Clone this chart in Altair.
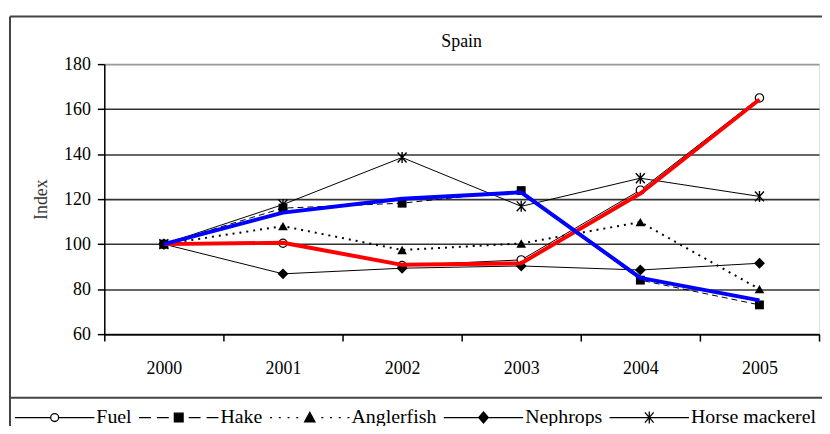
import altair as alt
import pandas as pd

years = ["2000", "2001", "2002", "2003", "2004", "2005"]
series_names = ["Fuel", "Hake", "Anglerfish", "Nephrops", "Horse mackerel"]
fuel = [100, 100.4, 90.5, 93, 124, 165]
hake = [100, 116, 118.2, 123.8, 84, 73]
anglerfish = [100, 108, 97.4, 100.3, 109.8, 80]
nephrops = [100, 86.8, 89.3, 90.3, 88.5, 91.5]
horse_mackerel = [100, 117.6, 138.5, 116.8, 129.3, 121.2]
fuel_trend_red = [100, 100.6, 90.8, 91.5, 122.5, 164.3]
hake_trend_blue = [100, 114, 120.2, 123, 85, 75]
y_ticks = [60, 80, 100, 120, 140, 160, 180]

FONT = "Liberation Serif"

values = {
    "Fuel": fuel,
    "Hake": hake,
    "Anglerfish": anglerfish,
    "Nephrops": nephrops,
    "Horse mackerel": horse_mackerel,
}

rows = []
for name, vals in values.items():
    for yr, v in zip(years, vals):
        rows.append({"year": yr, "value": v, "series": name})
df = pd.DataFrame(rows)

trend_rows = []
for name, vals in [("red", fuel_trend_red), ("blue", hake_trend_blue)]:
    for yr, v in zip(years, vals):
        trend_rows.append({"year": yr, "value": v, "trend": name})
tdf = pd.DataFrame(trend_rows)

x_enc = alt.X(
    "year:N",
    scale=alt.Scale(type="band", domain=years, paddingInner=0, paddingOuter=0),
    axis=alt.Axis(
        title=None, tickBand="extent", labelAngle=0, labelFont=FONT,
        labelFontSize=18, labelColor="black", labelPadding=19, tickSize=7,
        tickColor="black", tickWidth=1.5, domainColor="black", domainWidth=1.5,
        grid=False,
    ),
)
y_enc = alt.Y(
    "value:Q",
    scale=alt.Scale(domain=[60, 180], nice=False, zero=False),
    axis=alt.Axis(
        values=y_ticks, title="Index", titleFont=FONT, titleFontSize=18,
        titleFontWeight="normal", titleColor="#333", titleX=-54, titleY=136,
        labelFont=FONT, labelFontSize=18, labelColor="black", labelPadding=7,
        tickSize=7, tickColor="black", tickWidth=1.5, domainColor="black",
        domainWidth=1.5, grid=True,
        gridColor={"condition": {"test": "datum.value == 180", "value": "#9a9a9a"}, "value": "#333333"},
        gridWidth=1.6,
    ),
)

line_styles = {
    "Fuel": dict(strokeWidth=1),
    "Hake": dict(strokeWidth=1, strokeDash=[6, 4]),
    "Anglerfish": dict(strokeWidth=2, strokeDash=[2, 5]),
    "Nephrops": dict(strokeWidth=1),
    "Horse mackerel": dict(strokeWidth=1),
}
marker_styles = {
    "Fuel": dict(shape="circle", size=70, filled=True, fill="white", stroke="black", strokeWidth=1.2),
    "Hake": dict(shape="square", size=80, filled=True, color="black"),
    "Anglerfish": dict(shape="triangle-up", size=95, filled=True, color="black"),
    "Nephrops": dict(shape="diamond", size=120, filled=True, color="black"),
    "Horse mackerel": dict(shape="M-0.9,-1L0.9,1M-0.9,1L0.9,-1M0,-1.1V1.1", size=100,
                           filled=False, stroke="black", strokeWidth=1.4),
}

layers = []
for name in series_names:
    sub = alt.Chart(df).transform_filter(alt.datum.series == name)
    layers.append(sub.mark_line(color="black", **line_styles[name]).encode(x=x_enc, y=y_enc))
for name in series_names:
    sub = alt.Chart(df).transform_filter(alt.datum.series == name)
    layers.append(sub.mark_point(opacity=1, **marker_styles[name]).encode(x=x_enc, y=y_enc))

layers.append(
    alt.Chart(tdf).transform_filter(alt.datum.trend == "red")
    .mark_line(color="#ff0000", strokeWidth=4, strokeJoin="round").encode(x=x_enc, y=y_enc)
)
layers.append(
    alt.Chart(tdf).transform_filter(alt.datum.trend == "blue")
    .mark_line(color="#0000ff", strokeWidth=4, strokeJoin="round").encode(x=x_enc, y=y_enc)
)

# legend symbols: line + marker drawn as one path each
legend_paths = [
    "M-1,0H-0.1M0.1,0H1M0.1,0A0.1,0.1 0 1,1 -0.1,0A0.1,0.1 0 1,1 0.1,0Z",
    "M-1,0H-0.7M-0.55,0H-0.25M0.25,0H0.55M0.7,0H1M-0.11,-0.11H0.11V0.11H-0.11Z",
    "M-1,0H-0.95M-0.78,0H-0.73M-0.56,0H-0.51M-0.34,0H-0.29M0.29,0H0.34M0.51,0H0.56M0.73,0H0.78M0.95,0H1M0,-0.13L0.13,0.11H-0.13Z",
    "M-1,0H1M0,-0.14L0.12,0L0,0.14L-0.12,0Z",
    "M-1,0H1M-0.11,-0.13L0.11,0.13M-0.11,0.13L0.11,-0.13M0,-0.15V0.15",
]
legend_fills = ["white", "black", "black", "black", "black"]


def make_legend():
    return alt.Legend(
        orient="none", legendX=-91, legendY=315, direction="horizontal",
        title=None, symbolSize=6400, symbolStrokeWidth=1.3,
        symbolStrokeColor="black", symbolOpacity=1,
        labelFont=FONT, labelFontSize=20, labelColor="black",
        labelOffset=1, columnPadding=4, padding=0,
    )


legend_layer = (
    alt.Chart(pd.DataFrame({"series": series_names, "year": years[:5], "value": [100] * 5}))
    .transform_filter("false")
    .mark_point(filled=True)
    .encode(
        x=x_enc,
        y=y_enc,
        shape=alt.Shape("series:N", scale=alt.Scale(domain=series_names, range=legend_paths),
                        legend=make_legend()),
        fill=alt.Fill("series:N", scale=alt.Scale(domain=series_names, range=legend_fills),
                      legend=make_legend()),
        stroke=alt.Stroke("series:N", scale=alt.Scale(domain=series_names, range=["black"] * 5),
                          legend=make_legend()),
    )
)
layers.append(legend_layer)

# outer frame of the figure
one = alt.Data(values=[{}])
frame_color = "#444444"
layers.append(alt.Chart(one).mark_rule(color=frame_color, strokeWidth=2).encode(
    x=alt.value(-95), x2=alt.value(730), y=alt.value(-48)))
layers.append(alt.Chart(one).mark_rule(color=frame_color, strokeWidth=2).encode(
    x=alt.value(-95), y=alt.value(-48), y2=alt.value(400)))
layers.append(alt.Chart(one).mark_rule(color=frame_color, strokeWidth=2).encode(
    x=alt.value(-95), x2=alt.value(730), y=alt.value(336)))

chart = (
    alt.layer(*layers)
    .properties(
        width=720,
        height=272,
        title=alt.TitleParams("Spain", font=FONT, fontSize=18, fontWeight="normal",
                              color="black", offset=13, frame="group", dy=49),
        autosize=alt.AutoSizeParams(type="none"),
        padding={"left": 97, "top": 55, "right": 3, "bottom": 91},
    )
    .configure_view(stroke="#9a9a9a", strokeWidth=1.5)
    .configure_axis(labelFont=FONT, titleFont=FONT)
    .configure_legend(labelFont=FONT)
    .configure_title(font=FONT)
    .configure(background="white")
)

chart.save("out.html", embed_options={"renderer": "svg", "actions": False})
